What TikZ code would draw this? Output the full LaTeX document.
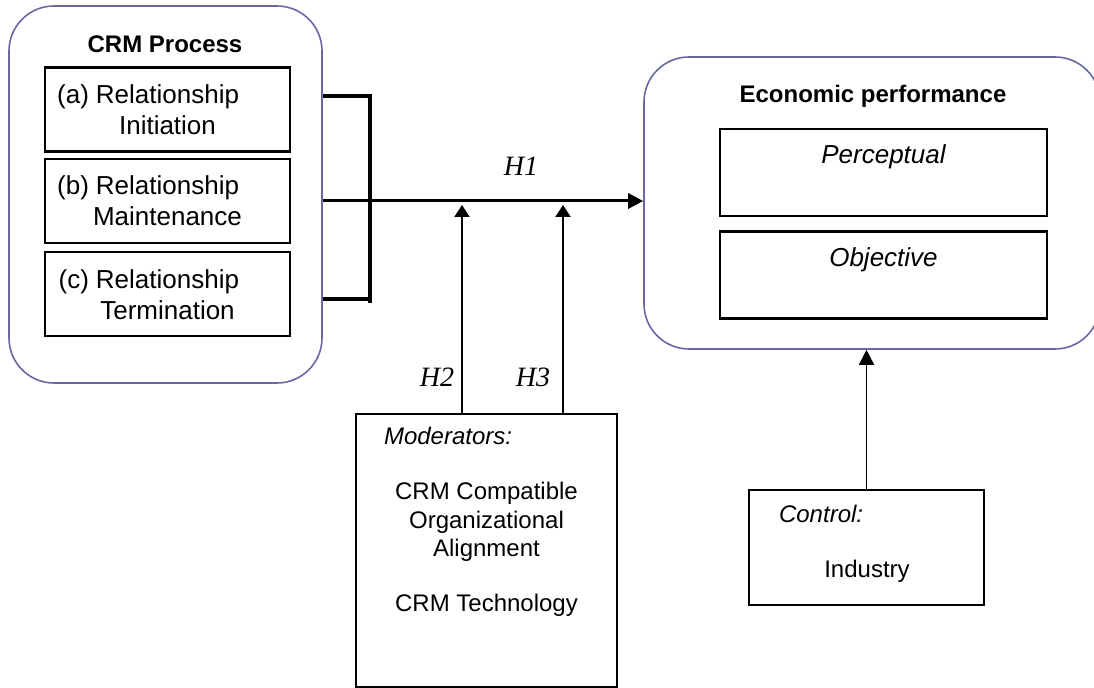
\documentclass[tikz,border=0pt]{standalone}
\usepackage{fontspec}
\setmainfont{Liberation Sans}
\newfontfamily\hypfont{Liberation Serif}
\usetikzlibrary{positioning, arrows.meta}
\definecolor{framepurple}{RGB}{104,104,164}

\begin{document}
\begin{tikzpicture}[x=0.5pt, y=-0.5pt,
		outer/.style={draw=framepurple, line width=0.8pt, rounded corners=22.5pt, inner sep=0pt},
		stagebox/.style={draw, line width=1.2pt, inner sep=0pt, minimum width=122.5pt, minimum height=42pt, align=center, font=\fontsize{13}{15.5}\selectfont},
		perfbox/.style={draw, line width=1.2pt, inner sep=0pt, minimum width=163.5pt, minimum height=43.5pt},
		plainbox/.style={draw, line width=0.9pt, inner sep=0pt},
		title/.style={font=\bfseries\fontsize{12}{14}\selectfont, anchor=base},
		boxtext/.style={font=\fontsize{12}{14.25}\selectfont, align=center},
		perftext/.style={font=\itshape\fontsize{13}{15.5}\selectfont, anchor=base},
		hyp/.style={font=\hypfont\itshape\fontsize{14}{16}\selectfont, anchor=base},
		bracket/.style={line width=2pt},
		mainarrow/.style={line width=1.5pt, -{Triangle[length=7.5pt,width=7.5pt]}},
		modarrow/.style={line width=1pt, -{Triangle[length=6pt,width=7.5pt]}},
		ctlarrow/.style={line width=0.8pt, -{Triangle[length=7.5pt,width=7.5pt]}}]
	\useasboundingbox (0,0) rectangle (1094,688);
	
	% CRM process
	\node[outer, minimum width=156.5pt, minimum height=188.5pt] (crm) at (165.5,194.5) {};
	\node[title] (crmtitle) at (165,53) {CRM Process};
	\node[stagebox] (init) at (167.5,109.5) {\llap{(a)\hspace{3.5pt}}Relationship\\Initiation};
	\node[stagebox, below=2.5pt of init] (maint) {\llap{(b)\hspace{3.5pt}}Relationship\\Maintenance};
	\node[stagebox, below=3.5pt of maint] (term) {\llap{(c)\hspace{3.5pt}}Relationship\\Termination};
	
	% economic performance
	\node[outer, minimum width=228pt, minimum height=146pt] (perf) at (872,203) {};
	\node[title] (perftitle) at (873,103) {Economic performance};
	\node[perfbox] (percep) at (883.5,172.5) {};
	\node[perfbox, below=6.5pt of percep] (objec) {};
	\node[perftext] (perceptxt) at ([yshift=-18pt]percep.north) {Perceptual};
	\node[perftext] (objectxt) at ([yshift=-18pt]objec.north) {Objective};
	
	% moderators and control
	\node[plainbox, minimum width=130.5pt, minimum height=136.5pt] (moder) at (486.5,550.5) {};
	\node[font=\itshape\fontsize{12}{14}\selectfont, anchor=base west] (modtitle) at (377,445) {Moderators:};
	\node[boxtext] (modtxt) at (486.5,522) {CRM Compatible\\Organizational\\Alignment};
	\node[boxtext, anchor=base] (techtxt) at (486.5,612) {CRM Technology};
	
	\node[plainbox, minimum width=117.5pt, minimum height=57.5pt] (ctrl) at (866.5,547.5) {};
	\node[font=\itshape\fontsize{12}{14}\selectfont, anchor=base west] (ctrltitle) at (772,523) {Control:};
	\node[boxtext, anchor=base] (indtxt) at (867,578) {Industry};
	
	% connectors
	\coordinate (brtop) at (370,96);
	\coordinate (hub) at (370,201);
	\coordinate (brbot) at (370,299);
	\coordinate (h2pt) at (462,201);
	\coordinate (h3pt) at (563,201);
	
	\draw[bracket] (crm.east |- brtop) -- (brtop);
	\draw[bracket] (crm.east |- brbot) -- (brbot);
	\draw[bracket] ([yshift=1pt]brtop) -- ([yshift=-2pt]brbot);
	\draw[mainarrow] (crm.east |- hub) -- (perf.west |- hub);
	\draw[modarrow, shorten >=2pt] (moder.north -| h2pt) -- (h2pt);
	\draw[modarrow, shorten >=2pt] (moder.north -| h3pt) -- (h3pt);
	\draw[ctlarrow] (ctrl.north) -- (ctrl.north |- perf.south);
	
	\node[hyp] (h1) at (521,176) {H1};
	\node[hyp] (h2) at (437,387) {H2};
	\node[hyp] (h3) at (533,387) {H3};
\end{tikzpicture}
\end{document}
